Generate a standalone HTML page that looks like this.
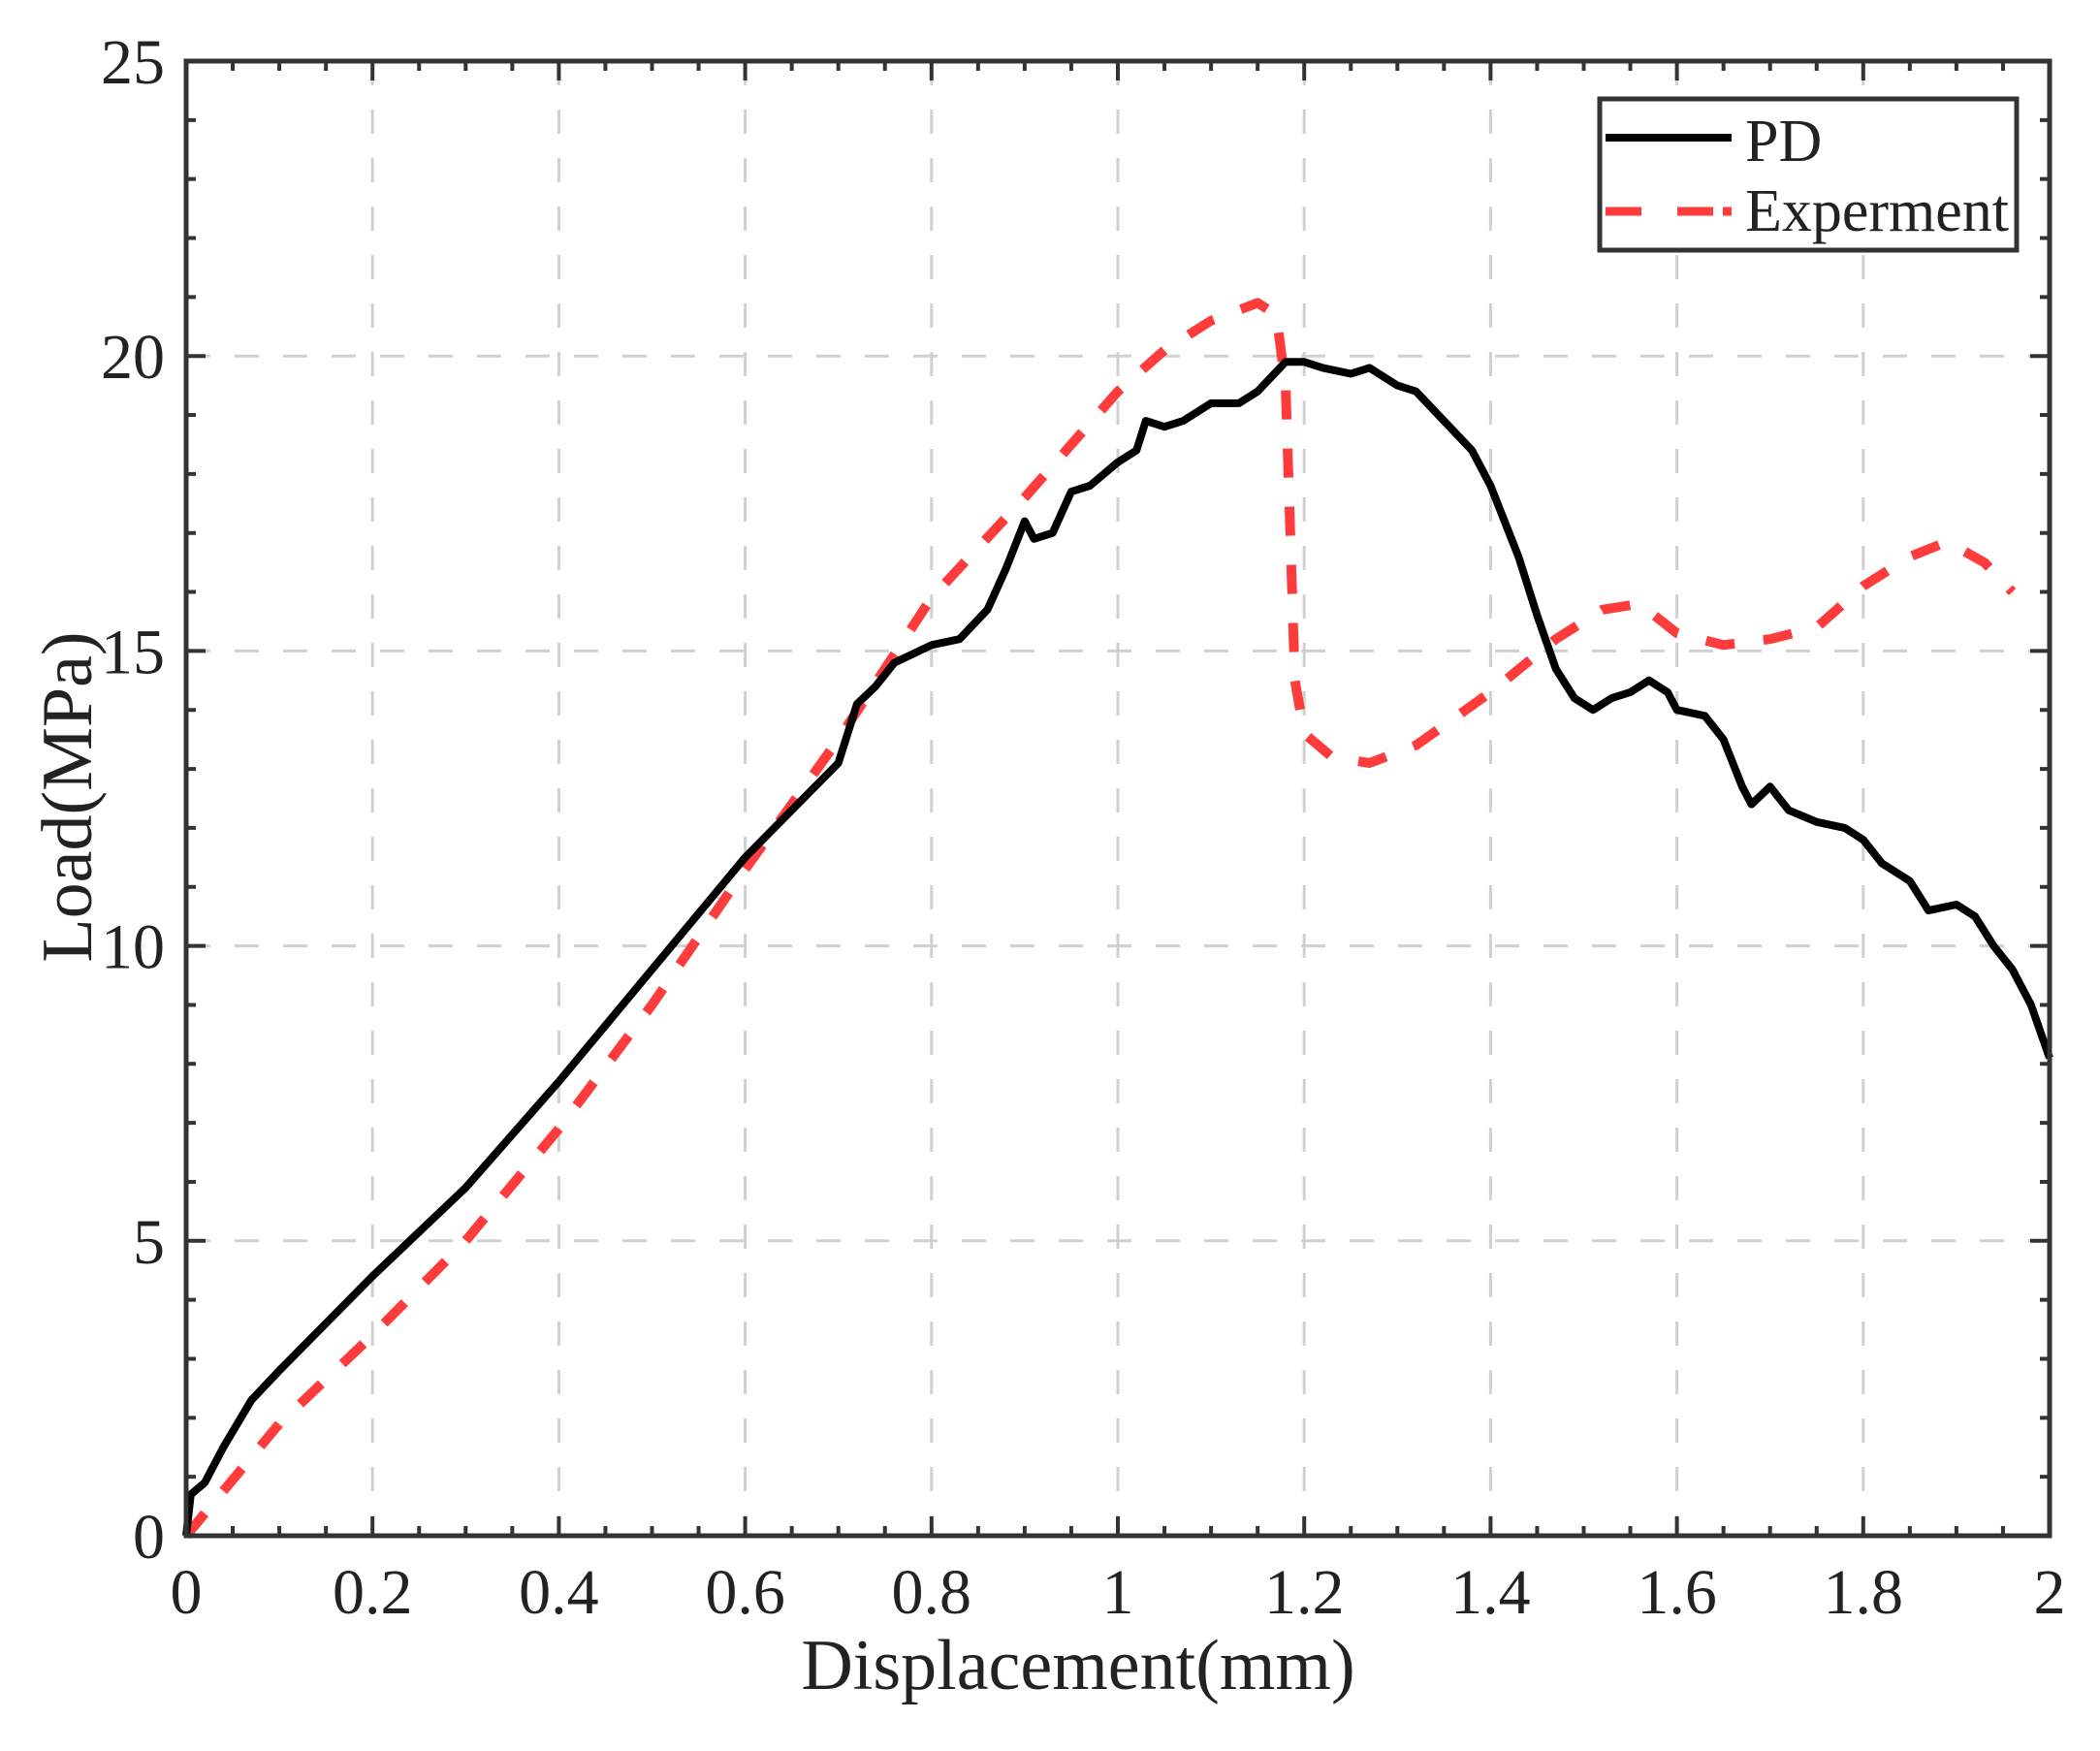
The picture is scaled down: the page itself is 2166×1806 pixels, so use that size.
<!DOCTYPE html>
<html><head><meta charset="utf-8"><style>
html,body{margin:0;padding:0;background:#fff;}
svg text{font-family:"Liberation Serif",serif;fill:#222;}
</style></head><body>
<svg id="chart" width="2166" height="1801" viewBox="0 0 2166 1801" xmlns="http://www.w3.org/2000/svg">
<g id="grid"></g>
<g id="series"></g>
<g id="axes"></g>
<g>
<rect x="1650" y="102" width="430" height="156" fill="#fff" stroke="#333" stroke-width="5"/>
<line x1="1656" y1="142" x2="1786" y2="142" stroke="#000" stroke-width="8"/>
<text x="1800" y="166" font-size="62">PD</text>
<line x1="1656" y1="218" x2="1786" y2="218" stroke="#ff3b3b" stroke-width="9" stroke-dasharray="37 37 37 10 12 10"/>
<text x="1800" y="238" font-size="62">Experment</text>
</g>
<text x="1112" y="1742" font-size="74" text-anchor="middle">Displacement(mm)</text>
<text transform="translate(94,822) rotate(-90)" font-size="74" text-anchor="middle">Load(MPa)</text>
</svg>
<script>
const xTicks=[0,0.2,0.4,0.6,0.8,1,1.2,1.4,1.6,1.8,2];
const xTickLabels=["0","0.2","0.4","0.6","0.8","1","1.2","1.4","1.6","1.8","2"];
const yTicks=[0,5,10,15,20,25];
const yTickLabels=["0","5","10","15","20","25"];
const pdX=[0,0.005,0.02,0.04,0.07,0.1,0.15,0.2,0.3,0.4,0.5,0.6,0.65,0.7,0.72,0.74,0.76,0.8,0.83,0.86,0.88,0.9,0.91,0.93,0.95,0.97,1.0,1.02,1.03,1.05,1.07,1.1,1.13,1.15,1.18,1.2,1.22,1.25,1.27,1.3,1.32,1.35,1.38,1.4,1.43,1.45,1.47,1.49,1.51,1.53,1.55,1.57,1.59,1.6,1.63,1.65,1.67,1.68,1.7,1.72,1.75,1.78,1.8,1.82,1.85,1.87,1.9,1.92,1.94,1.96,1.98,2.0];
const pdY=[0,0.7,0.9,1.5,2.3,2.8,3.6,4.4,5.9,7.7,9.6,11.5,12.3,13.1,14.1,14.4,14.8,15.1,15.2,15.7,16.4,17.2,16.9,17.0,17.7,17.8,18.2,18.4,18.9,18.8,18.9,19.2,19.2,19.4,19.9,19.9,19.8,19.7,19.8,19.5,19.4,18.9,18.4,17.8,16.6,15.6,14.7,14.2,14.0,14.2,14.3,14.5,14.3,14.0,13.9,13.5,12.7,12.4,12.7,12.3,12.1,12.0,11.8,11.4,11.1,10.6,10.7,10.5,10.0,9.6,9.0,8.1];
const expX=[0,0.1,0.2,0.3,0.4,0.5,0.6,0.7,0.75,0.8,0.9,1.0,1.05,1.1,1.15,1.17,1.18,1.185,1.19,1.2,1.23,1.27,1.32,1.4,1.47,1.52,1.56,1.6,1.65,1.7,1.75,1.8,1.85,1.89,1.93,1.96];
const expY=[0,1.9,3.4,5.0,6.9,9.0,11.3,13.5,14.7,15.9,17.6,19.4,20.1,20.6,20.9,20.7,19.5,17.0,14.5,13.6,13.2,13.1,13.4,14.3,15.2,15.7,15.8,15.3,15.1,15.2,15.4,16.1,16.6,16.85,16.5,16.0];

const L=192,R=2114,T=63,B=1584;
const sx=v=>L+(v-0)/(2-0)*(R-L);
const sy=v=>B-(v-0)/(25-0)*(B-T);
const NS="http://www.w3.org/2000/svg";
function mk(tag,parent,attrs){const e=document.createElementNS(NS,tag);for(const k in attrs)e.setAttribute(k,attrs[k]);parent.appendChild(e);return e;}
const grid=document.getElementById('grid'),axes=document.getElementById('axes'),series=document.getElementById('series');

xTicks.forEach((v,i)=>{
  if(i>0&&i<xTicks.length-1){const g=mk('line',grid,{x1:sx(v),x2:sx(v),y1:T,y2:B,stroke:'#d0d0d0','stroke-width':3,'stroke-dasharray':'25 25'});
  
  }
  const t=mk('text',axes,{x:sx(v),y:1664,'font-size':66,'text-anchor':'middle'});t.textContent=xTickLabels[i];
  
  
});
yTicks.forEach((v,i)=>{
  if(i>0&&i<yTicks.length-1){const g=mk('line',grid,{x1:L,x2:R,y1:sy(v),y2:sy(v),stroke:'#d0d0d0','stroke-width':3,'stroke-dasharray':'25 25'});
  
  }
  const t=mk('text',axes,{x:170,y:sy(v)+23,'font-size':66,'text-anchor':'end'});t.textContent=yTickLabels[i];
  
  
});
let d='';
for(let k=0;k<=40;k++){const v=k*0.05,x=sx(v),len=(k%4===0)?20:10;d+=`M${x} ${B}v${-len}M${x} ${T}v${len}`;}
for(let k=0;k<=25;k++){const y=sy(k),len=(k%5===0)?20:10;d+=`M${L} ${y}h${len}M${R} ${y}h${-len}`;}
const tk=mk('path',axes,{d:d,stroke:'#333','stroke-width':4,fill:'none'});


const fr=mk('rect',axes,{x:L,y:T,width:R-L,height:B-T,fill:'none',stroke:'#333','stroke-width':5});



function pathOf(xs,ys){return xs.map((v,i)=>(i?'L':'M')+sx(v).toFixed(1)+' '+sy(ys[i]).toFixed(1)).join('');}
const ex=mk('path',series,{d:pathOf(expX,expY),fill:'none',stroke:'#ff3b3b','stroke-width':10,'stroke-dasharray':'30 30','stroke-linejoin':'round'});


const pd=mk('path',series,{d:pathOf(pdX,pdY),fill:'none',stroke:'#000','stroke-width':8,'stroke-linejoin':'round'});


</script>
</body></html>
